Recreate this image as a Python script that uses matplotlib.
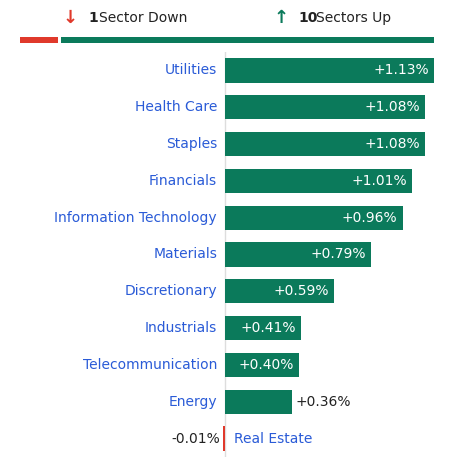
import matplotlib.pyplot as plt

sectors = ["Utilities", "Health Care", "Staples", "Financials", "Information Technology",
           "Materials", "Discretionary", "Industrials", "Telecommunication", "Energy", "Real Estate"]
changes = [1.13, 1.08, 1.08, 1.01, 0.96, 0.79, 0.59, 0.41, 0.40, 0.36, -0.01]
n_down = 1
n_up = 10

GREEN = "#0b7a5b"
RED = "#e0392b"
BLUE = "#2a5bd7"
W, H = 459, 462

fig = plt.figure(figsize=(W / 100, H / 100), dpi=100)

# header
fig.text(70 / W, 1 - 18 / H, "\u2193", color=RED, fontsize=13, fontweight="bold", ha="center", va="center")
fig.text(88 / W, 1 - 18 / H, f"{n_down}", color="#222", fontsize=10, fontweight="bold", va="center")
fig.text(99 / W, 1 - 18 / H, "Sector Down", color="#222", fontsize=10, va="center")
fig.text(281 / W, 1 - 18 / H, "\u2191", color=GREEN, fontsize=13, fontweight="bold", ha="center", va="center")
fig.text(298 / W, 1 - 18 / H, f"{n_up}", color="#222", fontsize=10, fontweight="bold", va="center")
fig.text(316 / W, 1 - 18 / H, "Sectors Up", color="#222", fontsize=10, va="center")

pb = fig.add_axes([20 / W, 1 - 43 / H, 414 / W, 6 / H])
total = n_down + n_up
gap = 0.08
pb.barh(0, n_down, color=RED, height=1)
pb.barh(0, n_up - gap, left=n_down + gap, color=GREEN, height=1)
pb.set_xlim(0, total)
pb.set_ylim(-0.5, 0.5)
pb.axis("off")

# bars
ax = fig.add_axes([0, 5 / H, 1, 405 / H])
scale = 185.0  # px per 1%
ax.set_xlim(-225 / scale, (W - 225) / scale)
ax.set_ylim(len(sectors) - 0.5, -0.5)
ax.axis("off")
px = 1 / scale

ypos = range(len(sectors))
colors = [GREEN if c >= 0 else RED for c in changes]
ax.barh(ypos, changes, height=0.66, color=colors)
ax.plot([0, 0], [-0.5, len(sectors) - 0.5], color="#dddddd", lw=1, zorder=0)

for i, (name, c) in enumerate(zip(sectors, changes)):
    lab = f"{c:+.2f}%"
    if c < 0:
        ax.barh(i, -2 * px, height=0.66, color=RED)
        ax.text(9 * px, i, name, color=BLUE, fontsize=10, ha="left", va="center")
        ax.text(-5 * px, i, lab, color="#222", fontsize=10, ha="right", va="center")
        continue
    ax.text(-8 * px, i, name, color=BLUE, fontsize=10, ha="right", va="center")
    if c > 0.38:
        ax.text(c - 5 * px, i, lab, color="white", fontsize=10, ha="right", va="center")
    else:
        ax.text(c + 4 * px, i, lab, color="#222", fontsize=10, ha="left", va="center")

fig.savefig("out.png", dpi=100)
